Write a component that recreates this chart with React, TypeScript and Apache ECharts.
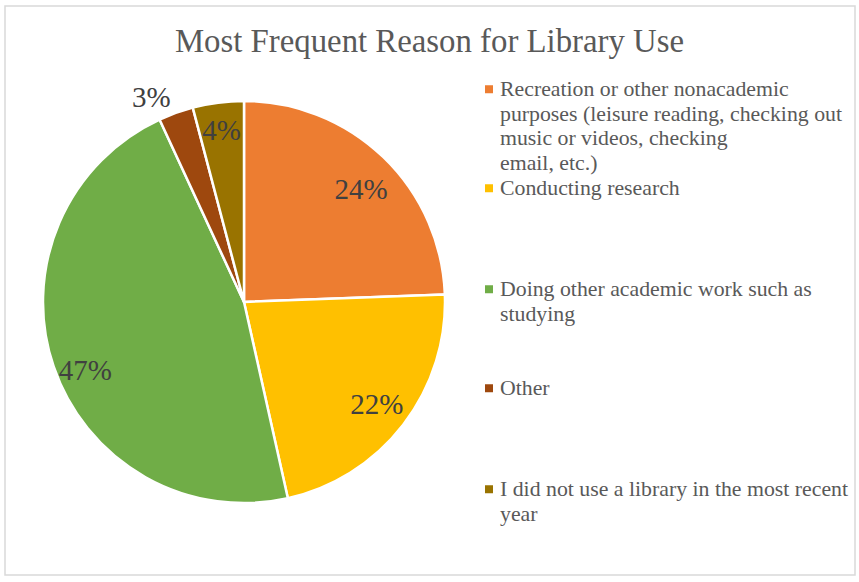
import React, { useEffect, useRef } from "react";
import * as echarts from "echarts";

const legendLines: string[][] = [
  ["Recreation or other nonacademic", "purposes (leisure reading, checking out", "music or videos, checking", "email, etc.)"],
  ["Conducting research"],
  ["Doing other academic work such as", "studying"],
  ["Other"],
  ["I did not use a library in the most recent", "year"],
];
const categories = legendLines.map((l) => l.join(" "));
const values = [24.4, 22.1, 46.6, 2.8, 4.1];
const colors = ["#ED7D31", "#FFC000", "#70AD47", "#9E480E", "#997300"];
const chartTitle = "Most Frequent Reason for Library Use";

export default function App() {
  const ref = useRef<HTMLDivElement>(null);
  useEffect(() => {
    const chart = echarts.init(ref.current!, null, { renderer: "svg" });
    const cx = 244, cy = 302, R = 201;
    const font = "Liberation Serif, Times New Roman, serif";
    const total = values.reduce((a, b) => a + b, 0);
    const mids: number[] = [];
    let acc = 0;
    values.forEach((v) => {
      mids.push(((acc + v / 2) / total) * Math.PI * 2);
      acc += v;
    });
    // label placement (styling): radius factor and angle shift in degrees
    const labelR = [0.81, 0.835, 0.86, 1.12, 0.865];
    const labelShift = [2, 0, -4.6, -4.5, 0];
    const legendTops = [77, 176, 277, 376, 477];

    const rich: any = {
      t: { fontSize: 21.8, lineHeight: 24.5, color: "#595959", fontFamily: font },
      g: { width: 7, height: 1 },
      s: { width: 15, height: 1 },
    };
    colors.forEach((c, i) => {
      rich["m" + i] = { width: 8, height: 8, backgroundColor: c };
    });

    const legends = categories.map((name, i) => ({
      data: [name],
      left: 479,
      top: legendTops[i],
      padding: 0,
      orient: "vertical",
      icon: "rect",
      itemWidth: 0,
      itemHeight: 0,
      selectedMode: false,
      textStyle: { fontSize: 21.8, lineHeight: 24.5, color: "#595959", fontFamily: font, rich },
      formatter: (n: string) => {
        const k = categories.indexOf(n);
        return legendLines[k]
          .map((ln, j) => (j === 0 ? `{m${k}|}{g|}` : `{s|}`) + `{t|${ln}}`)
          .join("\n");
      },
    }));

    chart.setOption({
      animation: false,
      backgroundColor: "#ffffff",
      textStyle: { fontFamily: font },
      title: {
        text: chartTitle,
        left: "center",
        top: 24,
        padding: 0,
        textStyle: { fontSize: 32.8, fontWeight: "normal", color: "#595959", fontFamily: font },
      },
      legend: legends,
      graphic: [
        {
          type: "rect",
          shape: { x: 5, y: 6, width: 850, height: 569 },
          style: { fill: "none", stroke: "#d9d9d9", lineWidth: 1.5 },
          silent: true,
        },
      ],
      series: [
        {
          type: "pie",
          center: [cx, cy],
          radius: R,
          startAngle: 90,
          clockwise: true,
          avoidLabelOverlap: false,
          data: values.map((v, i) => ({ name: categories[i], value: v, itemStyle: { color: colors[i] } })),
          itemStyle: { borderColor: "#ffffff", borderWidth: 2.5 },
          label: {
            show: true,
            position: "inside",
            formatter: (p: any) => Math.round(p.percent) + "%",
            fontSize: 29,
            color: "#404040",
            fontFamily: font,
          },
          labelLine: { show: false },
          labelLayout: (p: any) => {
            const i = p.dataIndex;
            const a = mids[i] + (labelShift[i] * Math.PI) / 180;
            const r = R * labelR[i];
            return { x: cx + r * Math.sin(a), y: cy - r * Math.cos(a) };
          },
          emphasis: { disabled: true },
        },
      ],
    });
    return () => chart.dispose();
  }, []);
  return <div ref={ref} style={{ position: "absolute", left: 0, top: 0, width: 859, height: 582 }} />;
}
